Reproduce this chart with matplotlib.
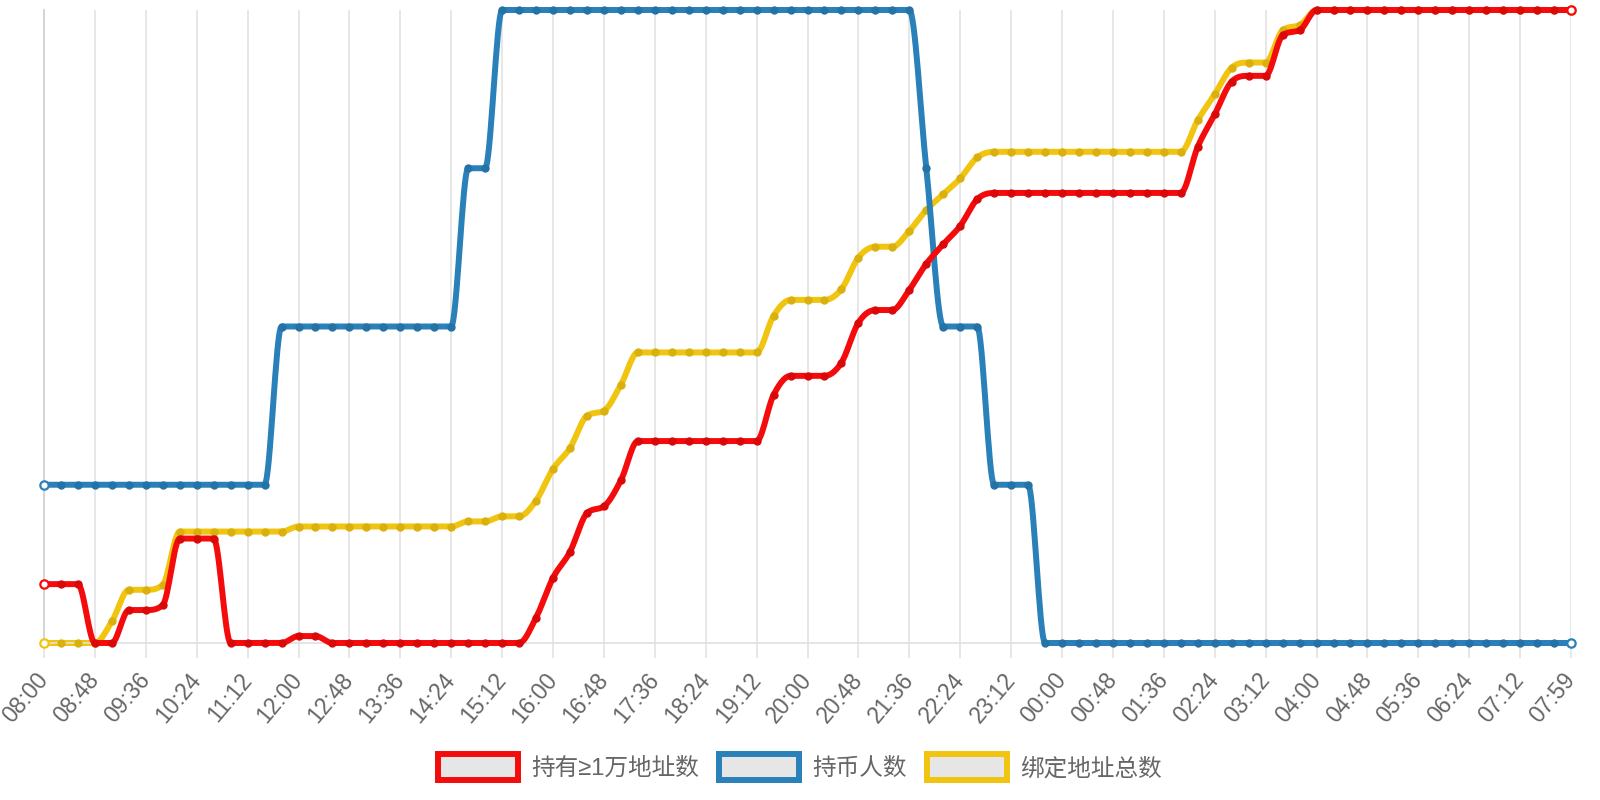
import numpy as np
import matplotlib
matplotlib.use('Agg')
import matplotlib.pyplot as plt
from matplotlib.patches import Patch

# 91 samples, 16 minutes apart, 08:00 -> 07:59
tick_labels = ['08:00', '08:48', '09:36', '10:24', '11:12', '12:00', '12:48', '13:36',
               '14:24', '15:12', '16:00', '16:48', '17:36', '18:24', '19:12', '20:00',
               '20:48', '21:36', '22:24', '23:12', '00:00', '00:48', '01:36', '02:24',
               '03:12', '04:00', '04:48', '05:36', '06:24', '07:12', '07:59']

series_names = ['持有≥1万地址数', '持币人数', '绑定地址总数']

big_holders = [9.3, 9.3, 9.3, 0, 0, 5.2, 5.2, 6.0, 16.5, 16.5, 16.5, 0, 0, 0, 0, 1.1, 1.1,
               0, 0, 0, 0, 0, 0, 0, 0, 0, 0, 0, 0,
               4.0, 10.3, 14.4, 20.5, 21.6, 25.7, 31.9,
               31.9, 31.9, 31.9, 31.9, 31.9, 31.9, 31.9,
               39.2, 42.2, 42.2, 42.2, 44.3, 50.6, 52.6, 52.6, 55.8, 59.9, 63.0, 65.9, 70.1, 71.1,
               71.1, 71.1, 71.1, 71.1, 71.1, 71.1, 71.1, 71.1, 71.1, 71.1, 71.1,
               78.4, 83.5, 88.7, 89.6, 89.6, 96.0, 96.8,
               100, 100, 100, 100, 100, 100, 100, 100, 100, 100, 100, 100, 100, 100, 100, 100]

holders = ([1] * 14 + [2] * 11 + [3] * 2 + [4] * 25 + [3] + [2] * 3 + [1] * 3 + [0] * 32)

bound_total = [0, 0, 0, 0, 3.4, 8.4, 8.4, 9.2, 17.6, 17.6, 17.6, 17.6, 17.6, 17.6, 17.6,
               18.4, 18.4, 18.4, 18.4, 18.4, 18.4, 18.4, 18.4, 18.4, 18.4,
               19.2, 19.2, 20.0, 20.0, 22.5, 27.5, 30.8, 35.9, 36.7, 40.8, 45.9,
               45.9, 45.9, 45.9, 45.9, 45.9, 45.9, 45.9,
               51.7, 54.2, 54.2, 54.2, 55.9, 60.9, 62.6, 62.6, 65.1, 68.4, 70.9, 73.4, 76.7, 77.6,
               77.6, 77.6, 77.6, 77.6, 77.6, 77.6, 77.6, 77.6, 77.6, 77.6, 77.6,
               82.6, 86.7, 90.9, 91.7, 91.7, 96.8, 97.6,
               100, 100, 100, 100, 100, 100, 100, 100, 100, 100, 100, 100, 100, 100, 100, 100]

colors = ['#f40c0c', '#2a80b9', '#f1c40f']
dot_colors = ['#d90909', '#2472a6', '#d9b00d']


def monotone_curve(y, steps=16):
    # Fritsch-Carlson monotone cubic, like chart.js 'monotone'
    y = np.asarray(y, dtype=float)
    x = np.arange(len(y), dtype=float)
    d = np.diff(y)
    m = np.zeros(len(y))
    m[0], m[-1] = d[0], d[-1]
    for k in range(1, len(y) - 1):
        if d[k - 1] * d[k] > 0:
            m[k] = (d[k - 1] + d[k]) / 2
    for k in range(len(d)):
        if d[k] == 0:
            m[k] = m[k + 1] = 0
            continue
        a, b = m[k] / d[k], m[k + 1] / d[k]
        s = a * a + b * b
        if s > 9:
            t = 3 / np.sqrt(s)
            m[k] = t * a * d[k]
            m[k + 1] = t * b * d[k]
    xs, ys = [], []
    t = np.linspace(0, 1, steps, endpoint=False)
    h00 = 2 * t**3 - 3 * t**2 + 1
    h10 = t**3 - 2 * t**2 + t
    h01 = -2 * t**3 + 3 * t**2
    h11 = t**3 - t**2
    for k in range(len(d)):
        xs.append(x[k] + t)
        ys.append(h00 * y[k] + h10 * m[k] + h01 * y[k + 1] + h11 * m[k + 1])
    xs.append([x[-1]])
    ys.append([y[-1]])
    return np.concatenate(xs), np.concatenate(ys)


fig = plt.figure(figsize=(16, 8), dpi=100)
ax = fig.add_axes([0.0275, 0.19625, 0.9544, 0.79125])
ax_blue = ax.twinx()
ax_red = ax.twinx()

# drawn bottom to top: yellow, blue, red
layers = [(ax, bound_total, 2), (ax_blue, holders, 1), (ax_red, big_holders, 0)]
for a, vals, ci in layers:
    xs, ys = monotone_curve(vals)
    a.plot(xs, ys, color=colors[ci], lw=4.3, solid_capstyle='round', clip_on=False, zorder=2)
    idx = np.arange(len(vals))
    a.plot(idx[1:-1], vals[1:-1], 'o', ms=5, color=dot_colors[ci], mec=dot_colors[ci],
           clip_on=False, zorder=3)
    a.plot([idx[0], idx[-1]], [vals[0], vals[-1]], 'o', ms=6, mfc='white',
           mec=colors[ci], mew=1.6, clip_on=False, zorder=3)
    a.set_ylim(min(vals), max(vals))
    a.set_xlim(0, len(vals) - 1)
    a.set_yticks([])
    for s in ['top', 'right', 'left', 'bottom']:
        a.spines[s].set_visible(False)

ax.spines['bottom'].set_visible(True)
ax.spines['bottom'].set_color('#e0e0e0')
ax.spines['bottom'].set_linewidth(1.2)
ax.spines['left'].set_visible(True)
ax.spines['left'].set_color('#cfcfcf')
ax.spines['left'].set_linewidth(1.2)

ax.set_xticks(np.arange(0, 91, 3))
ax.set_xticklabels(tick_labels, rotation=50, ha='right', va='center', rotation_mode='anchor',
                   fontsize=16.5, color='#666666', family='Liberation Sans')
ax.tick_params(axis='x', length=11, width=1.1, color='#e0e0e0', pad=13)
ax.grid(axis='x', color='#e0e0e0', lw=1.1)
ax.set_axisbelow(True)

handles = [Patch(facecolor='#e6e6e6', edgecolor=c, lw=4.3) for c in colors]
leg = fig.legend(handles, series_names, loc='center', bbox_to_anchor=(0.5, 0.041), ncol=3,
                 frameon=False, handlelength=3.4, handleheight=1.3, handletextpad=0.55,
                 columnspacing=0.85,
                 prop={'family': ['Liberation Sans', 'Noto Sans CJK SC'], 'size': 17})
for t in leg.get_texts():
    t.set_color('#666666')

fig.savefig('out.png', dpi=100)
